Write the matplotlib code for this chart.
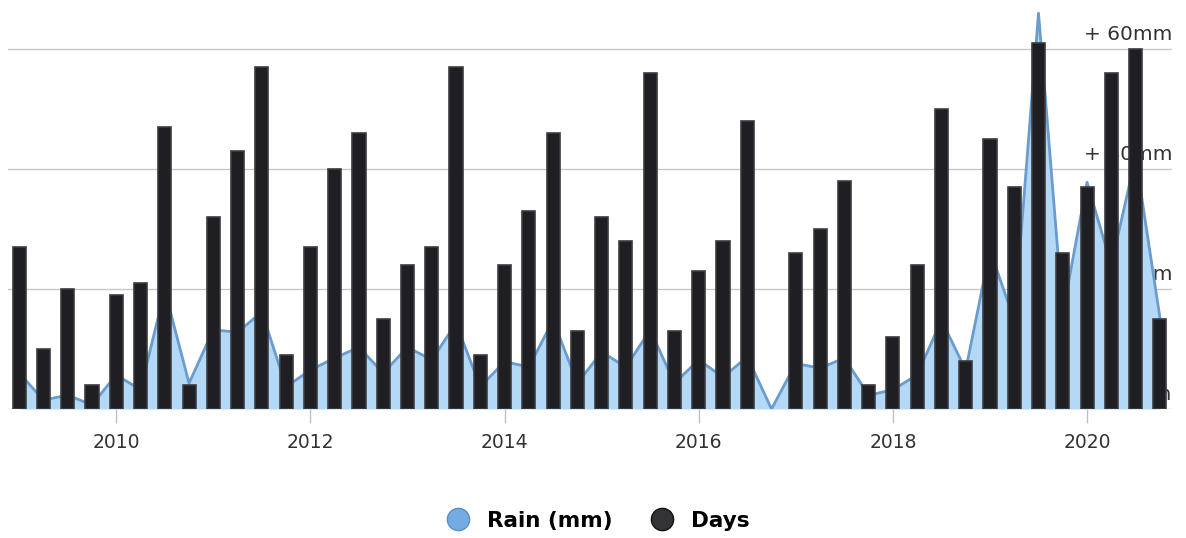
import numpy as np
import matplotlib
matplotlib.use("Agg")
import matplotlib.pyplot as plt
from matplotlib.lines import Line2D

# quarterly series, 2009 Q1 .. 2020 Q4
years = np.arange(2009, 2021)
quarters = [0.0, 0.25, 0.5, 0.75]

rain_mm = [6, 1.5, 2.3, 0.7, 5.7, 3.2, 19.8, 4.3, 13.2, 12.8, 16.2, 3.7,
           6.5, 8.5, 10.3, 6, 10.3, 8.2, 14.3, 3.7, 7.9, 7, 14.8, 4.3,
           9.5, 7, 13.2, 4.3, 8.2, 5.3, 8.7, 0, 7.6, 6.8, 8.5, 2.3,
           3.2, 5.7, 14.8, 6.5, 26.5, 14.8, 66, 16, 37.8, 24, 42, 15.3]

days = [27, 10, 20, 4, 19, 21, 47, 4, 32, 43, 57, 9,
        27, 40, 46, 15, 24, 27, 57, 9, 24, 33, 46, 13,
        32, 28, 56, 13, 23, 28, 48, 0, 26, 30, 38, 4,
        12, 24, 50, 8, 45, 37, 61, 26, 37, 56, 60, 15]

x_ticks = [2010, 2012, 2014, 2016, 2018, 2020]
grid_vals = [0, 20, 40, 60]
grid_labels = ["0mm", "+ 20mm", "+ 40mm", "+ 60mm"]

x = np.array([y + q for y in years for q in quarters])
days_arr = np.array(days)
nonzero = days_arr > 0

fig = plt.figure(figsize=(11.86, 5.38), dpi=100)
ax = fig.add_axes([8 / 1186, 129 / 538, 1164 / 1186, 409 / 538])

# zone de pluie
ax.fill_between(x, 0, rain_mm, color="#b3d9f7", zorder=2, linewidth=0)
ax.plot(x, rain_mm, color="#6a9ccd", linewidth=2, zorder=3)

# barres des jours (les trimestres sans jour ne sont pas dessinés)
ax.bar(x[nonzero], days_arr[nonzero], width=0.135, color="#1f1f23",
       edgecolor="#3c3c40", linewidth=1.2, zorder=4)

ax.set_xlim(2008.885, 2020.875)
ax.set_ylim(0, 68.2)

for v, lab in zip(grid_vals, grid_labels):
    if v > 0:
        ax.axhline(v, color="#c8c8c8", linewidth=1, zorder=0)
    ax.text(1.0, v + 0.8, lab, transform=ax.get_yaxis_transform(),
            ha="right", va="bottom", fontsize=14.5, color="#333333", zorder=1)
ax.axhline(0, color="#c0d0e0", linewidth=1, zorder=1)

ax.set_yticks([])
ax.set_xticks(x_ticks)
ax.set_xticklabels([str(t) for t in x_ticks], fontsize=13.5, color="#333333")
ax.tick_params(axis="x", length=10, width=1, color="#c0c0c0", pad=7)
for s in ax.spines.values():
    s.set_visible(False)

handles = [
    Line2D([], [], linestyle="none", marker="o", markersize=16,
           markerfacecolor="#74abe2", markeredgecolor="#5a8fc4"),
    Line2D([], [], linestyle="none", marker="o", markersize=16,
           markerfacecolor="#333336", markeredgecolor="#111111"),
]
fig.legend(handles, ["Rain (mm)", "Days"], loc="center",
           bbox_to_anchor=(0.5, 1 - 521 / 538), ncol=2, frameon=False,
           prop={"weight": "bold", "size": 15.5}, handletextpad=0.35,
           columnspacing=1.3)

fig.savefig("out.png", dpi=100)
